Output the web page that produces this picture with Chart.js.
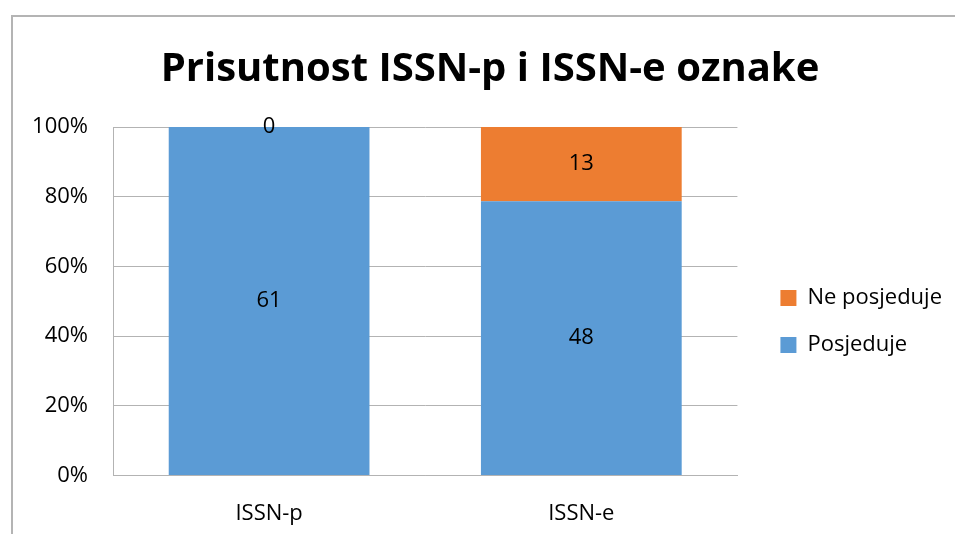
<!DOCTYPE html>
<html>
<head>
<meta charset="utf-8">
<script src="https://cdn.jsdelivr.net/npm/chart.js@4"></script>
<style>
  html, body { margin: 0; padding: 0; background: #fff; overflow: hidden; }
  #frame {
    position: absolute; left: 11px; top: 15px;
    width: 960px; height: 540px;
    border-left: 2px solid #b4b4b4; border-top: 2px solid #b4b4b4;
  }
  #wrap { position: relative; width: 960px; height: 540px; }
</style>
</head>
<body>
<div id="frame"><div id="wrap"><canvas id="chart"></canvas></div></div>
<script>
// podaci
const categories = ['ISSN-p', 'ISSN-e'];
const posjeduje = [61, 48];
const nePosjeduje = [0, 13];
const yTicks = [0, 20, 40, 60, 80, 100];

const colors = {
  blue: '#5b9bd5',
  orange: '#ed7d31',
  grid: '#b3b3b3',
  text: '#000'
};

const FONT = '"Open Sans", sans-serif';

// postotak od ukupnog za svaku kategoriju
const totals = categories.map((c, i) => posjeduje[i] + nePosjeduje[i]);
const pct = arr => arr.map((v, i) => v / totals[i] * 100);

// oznake vrijednosti (broj) u sredini svakog segmenta
const valueLabels = {
  id: 'valueLabels',
  afterDatasetsDraw(chart) {
    const c = chart.ctx;
    c.save();
    c.font = `22px ${FONT}`;
    c.fillStyle = colors.text;
    c.textAlign = 'center';
    c.textBaseline = 'middle';
    chart.data.datasets.forEach((ds, di) => {
      const meta = chart.getDatasetMeta(di);
      meta.data.forEach((bar, i) => {
        const { x, y, base } = bar.getProps(['x', 'y', 'base'], true);
        c.fillText(String(ds.counts[i]), x, (y + base) / 2);
      });
    });
    c.restore();
  }
};

// legenda malo odmaknuta od grafa, naslov centriran na cijeli okvir
const layoutTweaks = {
  id: 'layoutTweaks',
  afterLayout(chart) {
    const lg = chart.legend;
    if (lg) {
      const dx = chart.chartArea.right + 18 - lg.left;
      lg.left += dx;
      lg.right += dx;
      lg.top += 41;
      lg.bottom += 41;
    }
    if (chart.titleBlock) chart.titleBlock.left += 33;
  }
};

new Chart(document.getElementById('chart'), {
  type: 'bar',
  data: {
    labels: categories,
    datasets: [
      {
        label: 'Posjeduje',
        data: pct(posjeduje),
        counts: posjeduje,
        backgroundColor: colors.blue,
        barPercentage: 0.643,
        categoryPercentage: 1
      },
      {
        label: 'Ne posjeduje',
        data: pct(nePosjeduje),
        counts: nePosjeduje,
        backgroundColor: colors.orange,
        barPercentage: 0.643,
        categoryPercentage: 1
      }
    ]
  },
  options: {
    responsive: true,
    maintainAspectRatio: false,
    animation: false,
    layout: { padding: { left: 0, right: 39, top: 0, bottom: 13 } },
    plugins: {
      title: {
        display: true,
        text: 'Prisutnost ISSN-p i ISSN-e oznake',
        color: colors.text,
        font: { family: FONT, size: 40, weight: 'bold', lineHeight: 1.2 },
        padding: { top: 29, bottom: 33 }
      },
      legend: {
        position: 'right',
        reverse: true,
        labels: {
          color: colors.text,
          font: { family: FONT, size: 22 },
          boxWidth: 16,
          boxHeight: 16,
          padding: 25
        }
      },
      tooltip: { enabled: false }
    },
    scales: {
      x: {
        stacked: true,
        grid: { display: false },
        border: { display: true, color: colors.grid, width: 1 },
        ticks: { color: colors.text, font: { family: FONT, size: 22 }, padding: 17 }
      },
      y: {
        stacked: true,
        min: 0,
        max: 100,
        afterBuildTicks: axis => { axis.ticks = yTicks.map(v => ({ value: v })); },
        afterFit: axis => { axis.width = 100; },
        grid: { color: colors.grid, drawTicks: false },
        border: { display: true, color: colors.grid, width: 1 },
        ticks: {
          color: colors.text,
          font: { family: FONT, size: 22 },
          padding: 25,
          callback: v => v + '%'
        }
      }
    }
  },
  plugins: [valueLabels, layoutTweaks]
});
</script>
</body>
</html>
